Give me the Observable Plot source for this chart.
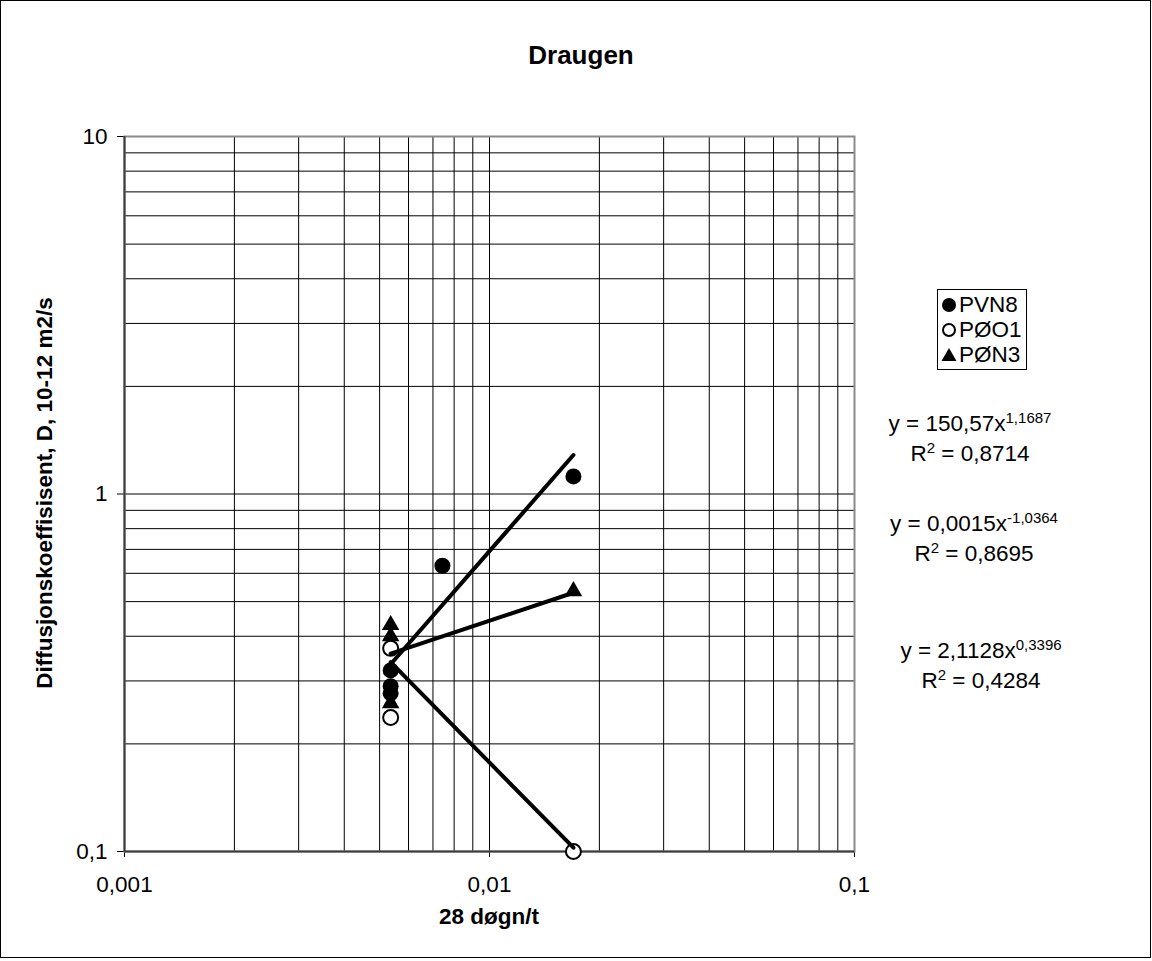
<!DOCTYPE html>
<html>
<head>
<meta charset="utf-8">
<script src="https://cdn.jsdelivr.net/npm/d3@7"></script>
<script src="https://cdn.jsdelivr.net/npm/@observablehq/plot@0.6"></script>
<style>
  body { margin: 0; background: #fff; font-family: "Liberation Sans", Arial, sans-serif; color: #000; }
  #chart { position: relative; width: 1152px; height: 961px; overflow: hidden; }
  #chart svg { position: absolute; left: 0; top: 0; }
  #border { position: absolute; left: 0; top: 0; width: 1151px; height: 958px; box-sizing: border-box; border: 1px solid #000; pointer-events: none; }
  .title { position: absolute; left: 0; width: 1162px; top: 40px; text-align: center; font-weight: bold; font-size: 26px; }
  .xlabel { position: absolute; left: 124px; width: 730px; top: 904px; text-align: center; font-weight: bold; font-size: 22.5px; }
  .ylabel { position: absolute; left: 45px; top: 493px; transform: translate(-50%, -50%) rotate(-90deg); white-space: nowrap; font-weight: bold; font-size: 22.5px; }
  .eq { position: absolute; width: 240px; text-align: center; font-size: 22.5px; white-space: nowrap; line-height: 1; }
  .eq sup { font-size: 15px; vertical-align: 0.55em; line-height: 0; }
  #legend { position: absolute; left: 937px; top: 289px; border: 1px solid #000; padding: 2px 4px 2px 3px; font-size: 22.5px; background: #fff; }
  #legend .row { display: flex; align-items: center; height: 25px; }
  #legend svg { position: static; margin-right: 2px; }
</style>
</head>
<body>
<div id="chart"></div>
<script>
// Series names, in legend order
const seriesNames = ["PVN8", "PØO1", "PØN3"];

// PVN8 (filled circles)
const pvn8X = [0.00536, 0.00536, 0.00536, 0.00743, 0.01698];
const pvn8Y = [0.321, 0.29, 0.277, 0.63, 1.12];

// PØO1 (open circles)
const po01X = [0.00536, 0.00536, 0.01698];
const po01Y = [0.37, 0.237, 0.1];

// PØN3 (filled triangles)
const pon3X = [0.00536, 0.00536, 0.00536, 0.01698];
const pon3Y = [0.43, 0.40, 0.26, 0.535];

// Power-law trend lines y = a·x^b, with their R²
const fitA = [150.57, 0.0015, 2.1128];
const fitB = [1.1687, -1.0364, 0.3396];
const fitR2 = [0.8714, 0.8695, 0.4284];

// Axis decades and tick labels
const xTicks = [0.001, 0.01, 0.1];
const yTicks = [0.1, 1, 10];

const comma = (v) => String(v).replace(".", ",");

const seriesX = [pvn8X, po01X, pon3X];
const seriesY = [pvn8Y, po01Y, pon3Y];

const points = seriesNames.flatMap((name, s) =>
  seriesX[s].map((x, i) => ({ series: name, x, y: seriesY[s][i] }))
);

// Each trend line spans its own series' x range
const trend = seriesNames.flatMap((name, s) => {
  const lo = d3.min(seriesX[s]), hi = d3.max(seriesX[s]);
  return [lo, hi].map((x) => ({ series: name, x, y: fitA[s] * Math.pow(x, fitB[s]) }));
});

// Log grid: 1..9 within each decade
const decadeGrid = (ticks) =>
  ticks.slice(0, -1).flatMap((t) => d3.range(1, 10).map((k) => k * t)).concat([ticks[ticks.length - 1]]);
const gridX = decadeGrid(xTicks);
const gridY = decadeGrid(yTicks);

const plot = Plot.plot({
  width: 1152,
  height: 961,
  marginLeft: 124,
  marginRight: 298,
  marginTop: 136,
  marginBottom: 110,
  style: { fontSize: "22.5px", fontFamily: "'Liberation Sans', Arial, sans-serif", background: "transparent", color: "#000" },
  x: { type: "log", domain: [xTicks[0], xTicks[2]], ticks: xTicks, tickFormat: comma, tickSize: 6, tickPadding: 19, label: null },
  y: { type: "log", domain: [yTicks[0], yTicks[2]], ticks: yTicks, tickFormat: comma, tickSize: 7, tickPadding: 10, label: null },
  marks: [
    Plot.ruleX(gridX, { stroke: "#000", strokeWidth: 1 }),
    Plot.ruleY(gridY, { stroke: "#000", strokeWidth: 1 }),
    Plot.frame({ stroke: "#8a8a8a", strokeWidth: 2 }),
    Plot.ruleX([xTicks[0]], { stroke: "#3c3c3c", strokeWidth: 2 }),
    Plot.ruleY([yTicks[0]], { stroke: "#3c3c3c", strokeWidth: 2 }),
    Plot.dot(points.filter((d) => d.series === "PVN8"), { x: "x", y: "y", r: 8, fill: "#000", stroke: "none" }),
    Plot.dot(points.filter((d) => d.series === "PØO1"), { x: "x", y: "y", r: 7.5, fill: "#fff", stroke: "#000", strokeWidth: 2 }),
    Plot.dot(points.filter((d) => d.series === "PØN3"), { x: "x", y: "y", r: 6.5, symbol: "triangle", fill: "#000", stroke: "none" }),
    Plot.line(trend, { x: "x", y: "y", z: "series", stroke: "#000", strokeWidth: 4 })
  ]
});

const chart = document.getElementById("chart");
chart.appendChild(plot);

// Title and axis titles
const addDiv = (cls, html, style) => {
  const d = document.createElement("div");
  d.className = cls;
  d.innerHTML = html;
  if (style) Object.assign(d.style, style);
  chart.appendChild(d);
  return d;
};
addDiv("title", "Draugen");
addDiv("xlabel", "28 døgn/t");
addDiv("ylabel", "Diffusjonskoeffisisent, D, 10-12 m2/s");

// Trend-line equations
const eqCenters = [970, 974, 981];
const eqTops = [[413, 443], [513, 543], [640, 670]];
seriesNames.forEach((name, s) => {
  const a = comma(fitA[s]);
  const b = comma(fitB[s]);
  addDiv("eq", `y = ${a}x<sup>${b}</sup>`, { left: (eqCenters[s] - 120) + "px", top: eqTops[s][0] + "px" });
  addDiv("eq", `R<sup>2</sup> = ${comma(fitR2[s])}`, { left: (eqCenters[s] - 120) + "px", top: eqTops[s][1] + "px" });
});

// Legend
const legend = document.createElement("div");
legend.id = "legend";
const symbolSvg = (s) => {
  if (s === 0) return `<svg width="16" height="18"><circle cx="8" cy="9" r="7" fill="#000"/></svg>`;
  if (s === 1) return `<svg width="16" height="18"><circle cx="8" cy="9" r="6" fill="#fff" stroke="#000" stroke-width="2"/></svg>`;
  return `<svg width="16" height="18"><path d="M8,2 L15.5,15 L0.5,15 Z" fill="#000"/></svg>`;
};
seriesNames.forEach((name, s) => {
  const row = document.createElement("div");
  row.className = "row";
  row.innerHTML = symbolSvg(s) + `<span>${name}</span>`;
  legend.appendChild(row);
});
chart.appendChild(legend);

const border = document.createElement("div");
border.id = "border";
chart.appendChild(border);
</script>
</body>
</html>
